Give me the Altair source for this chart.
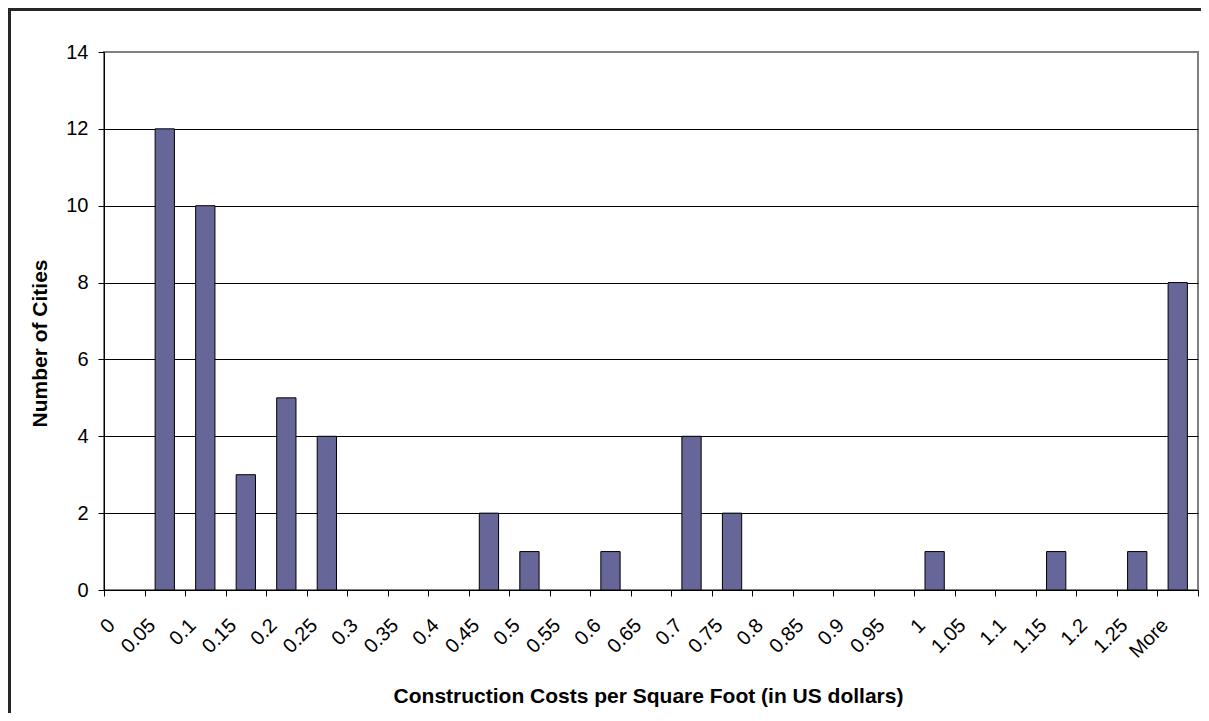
import altair as alt
import pandas as pd

bins = ["0", "0.05", "0.1", "0.15", "0.2", "0.25", "0.3", "0.35", "0.4", "0.45",
        "0.5", "0.55", "0.6", "0.65", "0.7", "0.75", "0.8", "0.85", "0.9", "0.95",
        "1", "1.05", "1.1", "1.15", "1.2", "1.25", "More"]
counts = [0, 12, 10, 3, 5, 4, 0, 0, 0, 2, 1, 0, 1, 0, 4, 2, 0, 0, 0, 0, 1, 0, 0, 1, 0, 1, 8]
y_ticks = [0, 2, 4, 6, 8, 10, 12, 14]

df = pd.DataFrame({"bin": bins, "count": counts})

FONT = "Liberation Sans"

bars = alt.Chart(df).mark_bar(
    width={"band": 0.476}, fill="#666699", stroke="#000000", strokeWidth=1
).encode(
    x=alt.X("bin:N", sort=bins,
            scale=alt.Scale(paddingInner=0, paddingOuter=0),
            axis=alt.Axis(
                title="Construction Costs per Square Foot (in US dollars)",
                labelAngle=315, labelAlign="right", labelBaseline="middle",
                labelOffset=-13, labelPadding=26, labelFontSize=20, labelFont=FONT,
                labelColor="#000000", labelOverlap=False, labelFlush=False, labelBound=False,
                tickBand="extent", tickSize=6, tickColor="#000000",
                domainColor="#000000", grid=False,
                titleFont=FONT, titleFontSize=21, titleFontWeight="bold", titleColor="#000000",
                titleX=544, titleY=112, titleAlign="center", titleBaseline="alphabetic",
            )),
    y=alt.Y("count:Q",
            scale=alt.Scale(domain=[0, 14], nice=False),
            axis=alt.Axis(
                title="Number of Cities", values=y_ticks,
                labelFontSize=20, labelFont=FONT, labelColor="#000000", labelPadding=10,
                tickSize=6, tickColor="#000000", domainColor="#000000",
                grid=True,
                gridColor={"condition": {"test": "datum.value == 14", "value": "#808080"},
                           "value": "#000000"},
                gridWidth=1,
                titleFont=FONT, titleFontSize=21, titleFontWeight="bold", titleColor="#000000",
                titleAngle=270, titleX=-58, titleY=291, titleAlign="center",
                titleBaseline="alphabetic",
            )),
    strokeOpacity=alt.condition("datum.count > 0", alt.value(1), alt.value(0)),
)

frame_data = alt.Data(values=[{"k": 1}])
frame_top = alt.Chart(frame_data).mark_rule(color="#262626", strokeWidth=3).encode(
    x=alt.value(-96), x2=alt.value(1110), y=alt.value(-42.5)
)
frame_left = alt.Chart(frame_data).mark_rule(color="#262626", strokeWidth=3).encode(
    x=alt.value(-94.5), y=alt.value(-44), y2=alt.value(700)
)

chart = alt.layer(bars, frame_top, frame_left).properties(
    width=1094, height=538,
    padding={"left": 96, "top": 44, "right": 3, "bottom": 123},
    autosize=alt.AutoSizeParams(type="none"),
    background="#ffffff",
).configure_view(
    stroke="#808080", strokeWidth=2
)

chart.save("out.html", embed_options={"renderer": "svg", "actions": False})
